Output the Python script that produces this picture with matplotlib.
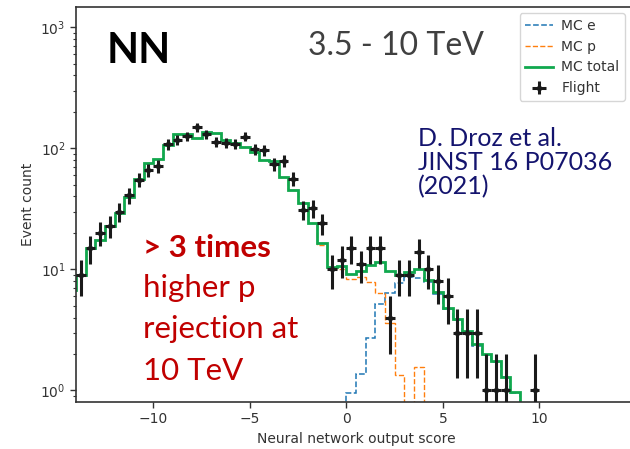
import numpy as np
import matplotlib
matplotlib.use("Agg")
import matplotlib.pyplot as plt

# ---------------- data ----------------
bin_edges = np.arange(-14.5, 9.01, 0.5)

mc_total = [6.8, 8.9, 14.9, 17.4, 22.8, 29, 39.8, 56, 75, 82,
            106, 130, 130, 122, 137, 133, 118, 110, 103, 93,
            80, 78, 58, 45, 35, 24, 16.4, 10.5, 10.6, 9.2,
            9.75, 10.9, 11.4, 9.75, 9.0, 9.6, 10.0, 8.2, 6.5, 4.8,
            3.9, 3.1, 2.4, 2.0, 1.75, 1.3, 0.98]

mc_e = [0] * 29 + [0.95, 1.37, 2.7, 5.2, 6.4, 7.75, 8.7, 8.5,
                   7.9, 6.3, 4.7, 3.8, 3.0, 2.35, 1.95, 1.72, 1.28, 0.96]

mc_p = [6.8, 8.9, 14.9, 17.4, 22.8, 29, 39.8, 56, 75, 82,
        106, 130, 130, 122, 137, 133, 118, 110, 103, 93,
        80, 78, 58, 45, 35, 24, 16.0, 10.5, 10.0,
        8.3, 8.6, 7.9, 6.4, 3.6, 1.33, 0, 1.55,
        0, 0, 0, 0, 0, 0, 0, 0, 0, 0]

flight_x = [-13.75, -13.25, -12.75, -12.25, -11.75, -11.25, -10.75, -10.25,
            -9.75, -9.25, -8.75, -8.25, -7.75, -7.25, -6.75, -6.25, -5.75,
            -5.25, -4.75, -4.25, -3.75, -3.25, -2.75, -2.25, -1.75, -1.25,
            -0.75, -0.25, 0.25, 0.75, 1.25, 1.75, 2.25, 2.75, 3.25, 3.75,
            4.25, 4.75, 5.25, 5.75, 6.25, 6.75, 7.25, 7.75, 8.25, 9.75]
flight_n = [9, 15, 20, 23, 30, 41, 55, 66, 71, 108, 117, 126, 149, 131, 113,
            111, 109, 125, 98, 97, 74, 79, 56, 31, 32, 24, 10, 12, 15, 11,
            15, 15, 4, 9, 9, 14, 10, 8, 6, 3, 3, 3, 1, 1, 1, 1]

# ---------------- figure ----------------
W, H = 630, 449
fig = plt.figure(figsize=(W / 100, H / 100), dpi=100)

ax_l, ax_r, ax_t, ax_b = 76, 636, 7, 402
ax = fig.add_axes([ax_l / W, 1 - ax_b / H, (ax_r - ax_l) / W, (ax_b - ax_t) / H])

ax.set_yscale("log")
ax.stairs(mc_e, bin_edges, color="#1f77b4", ls="--", lw=1.1, label="MC e", baseline=0)
ax.stairs(mc_p, bin_edges, color="#ff7f0e", ls="--", lw=1.0, label="MC p", baseline=0)
ax.stairs(mc_total, bin_edges, color="#10a84e", lw=2.0, label="MC total", baseline=0)

yerr = np.sqrt(np.array(flight_n, dtype=float))
ax.errorbar(flight_x, flight_n, yerr=yerr, xerr=0.25, fmt="o", ms=3,
            color="#1a1a1a", ecolor="#1a1a1a", elinewidth=2.2, capsize=0,
            label="Flight", zorder=5)

ax.set_xlim(-14, 15)
ax.set_ylim(0.803, 1468)
ax.set_xticks([-10, -5, 0, 5, 10])

txtc = "#333333"
for s in ax.spines.values():
    s.set_color("#333333")
    s.set_linewidth(1.2)
ax.tick_params(axis="both", which="major", labelsize=10, colors=txtc, length=4, width=1)
ax.tick_params(axis="y", which="minor", length=2, width=0.8, colors=txtc)
ax.set_ylabel("Event count", fontsize=10, color=txtc)
ax.set_xlabel("Neural network output score", fontsize=10, color=txtc)

leg = ax.legend(loc="upper right", bbox_to_anchor=(625 / W, 1 - 13 / H),
                bbox_transform=fig.transFigure, borderaxespad=0,
                fontsize=10, labelspacing=0.5,
                handlelength=2.0, handletextpad=0.6, borderpad=0.4,
                frameon=True, fancybox=True)
leg.get_frame().set_edgecolor("#cccccc")
for t in leg.get_texts():
    t.set_color(txtc)

# ---------------- annotations ----------------
def ftext(x, y, s, **kw):
    fig.text(x / W, 1 - y / H, s, va="baseline", ha="left", **kw)

ftext(107, 63, "NN", fontsize=30, fontweight="bold", color="black", family="Lato")
ftext(308, 55, "3.5 - 10 TeV", fontsize=23, color="#404040", family="Lato")

navy = "#14146e"
ftext(418, 146, "D. Droz et al.", fontsize=18, color=navy, family="Lato")
ftext(418, 170, "JINST 16 P07036", fontsize=18, color=navy, family="Lato")
ftext(418, 194, "(2021)", fontsize=18, color=navy, family="Lato")

red = "#c00000"
ftext(143, 257, "> 3 times", fontsize=22.5, fontweight="bold", color=red, family="Lato")
ftext(143, 297, "higher p", fontsize=22.5, color=red, family="Lato")
ftext(143, 338, "rejection at", fontsize=22.5, color=red, family="Lato")
ftext(143, 380, "10 TeV", fontsize=22.5, color=red, family="Lato")

fig.savefig("out.png", dpi=100)
